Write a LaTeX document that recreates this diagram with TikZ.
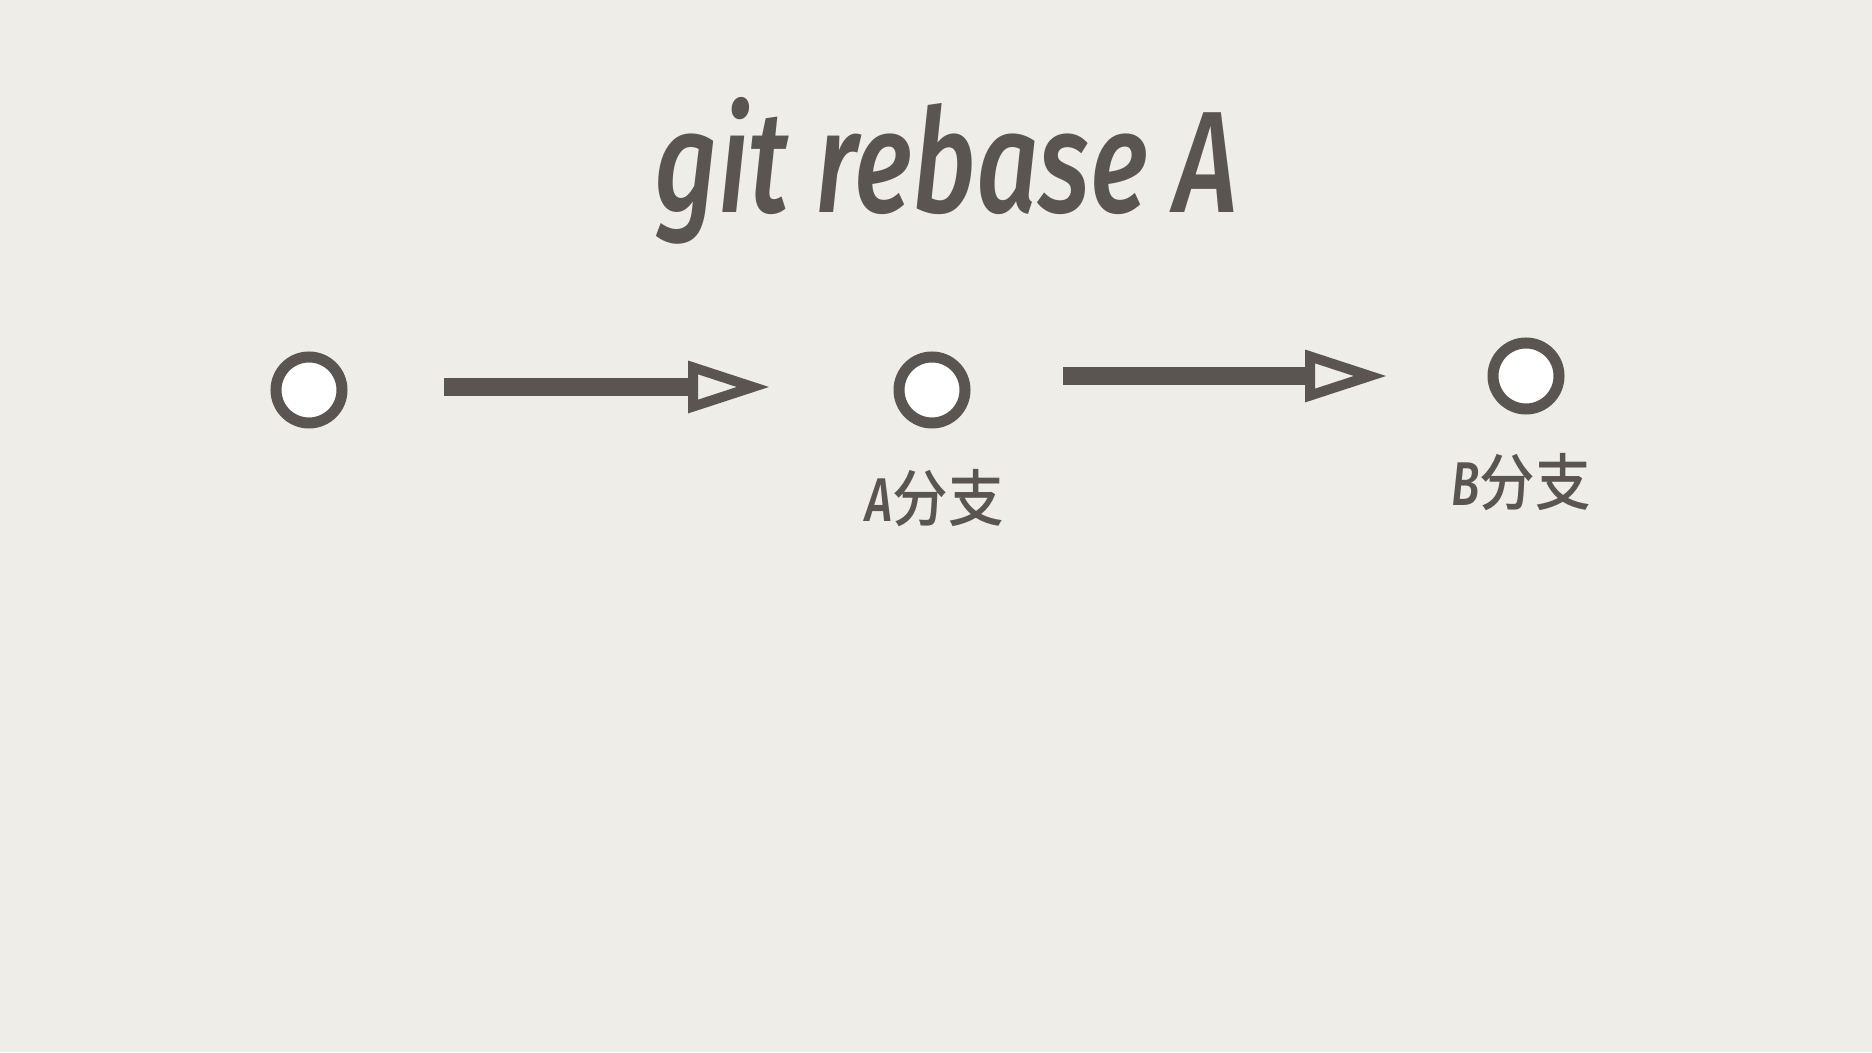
\documentclass[tikz,border=0pt]{standalone}
\usepackage{fontspec}
\usetikzlibrary{arrows.meta}
\newfontfamily\titlefont[FakeStretch=0.76]{Fira Sans Medium Italic}
\newfontfamily\cjk[FakeStretch=0.9]{Noto Sans CJK SC Medium}
\definecolor{paper}{HTML}{EFEDE7}
\definecolor{ink}{HTML}{5A5550}
\begin{document}
\begin{tikzpicture}[x=1bp,y=1bp,
  commit/.style={circle,draw=ink,fill=white,line width=11bp,
    minimum size=66bp,inner sep=0pt},
  conn/.style={draw=ink,line width=18bp,
    -{Triangle[open,length=82bp,width=50bp,line width=10bp]}},
  branch/.style={text=ink,inner sep=0pt,font=\fontsize{62}{62}\selectfont}]
  % canvas
  \fill[paper] (0,0) rectangle (1872,1052);
  \useasboundingbox (0,0) rectangle (1872,1052);
  % heading
  \node[anchor=base,text=ink,inner sep=0pt,font=\titlefont\fontsize{145}{145}\selectfont]
    (title) at (946,839) {git rebase A};
  % commits
  \node[commit] (c1) at (309,662) {};
  \node[commit] (c2) at (932,662) {};
  \node[commit] (c3) at (1526,676) {};
  % branch labels
  \node[branch] (la) at (935,554) {{\titlefont A}{\cjk 分支}};
  \node[branch] (lb) at (1521,570) {{\titlefont B}{\cjk 分支}};
  % connectors
  \coordinate (a1s) at (444,665);
  \coordinate (a1e) at (770,665);
  \coordinate (a2s) at (1063,676);
  \coordinate (a2e) at (1387,676);
  \draw[conn] (a1s) -- (a1e);
  \draw[conn] (a2s) -- (a2e);
\end{tikzpicture}
\end{document}
